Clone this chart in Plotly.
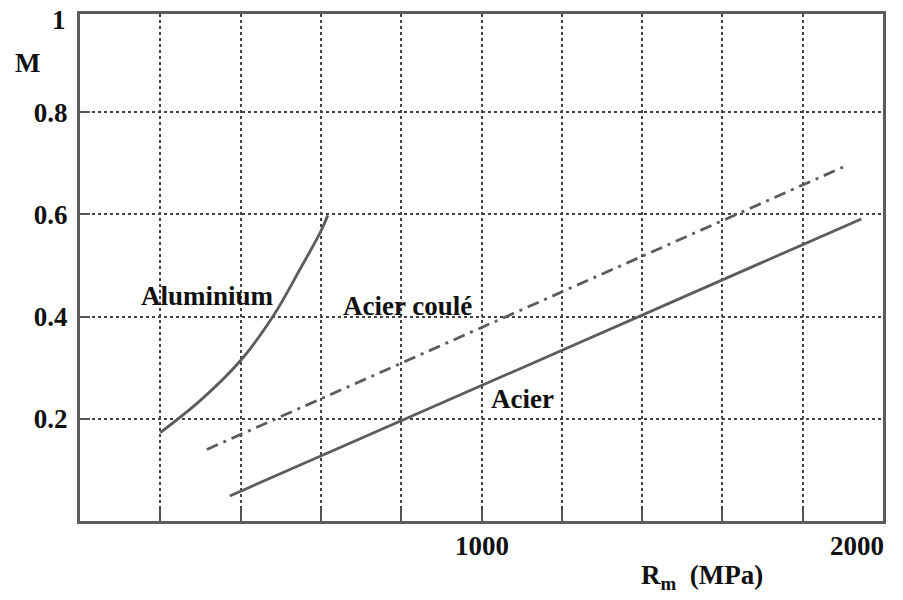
import plotly.graph_objects as go

# Data
alu_x = [200, 300, 400, 482, 549, 600, 617]
alu_y = [0.173, 0.236, 0.314, 0.402, 0.494, 0.567, 0.598]

coule_x = [316, 1902]
coule_y = [0.140, 0.693]

acier_x = [373, 1946]
acier_y = [0.049, 0.591]

y_ticks = [0.2, 0.4, 0.6, 0.8]
y_ticktext = ["0.2", "0.4", "0.6", "0.8"]

labels = [("Aluminium", 317, 0.440), ("Acier coulé", 815, 0.421), ("Acier", 1102, 0.238)]

FONT = "Liberation Serif, Times New Roman, serif"
LINE_COLOR = "#5c5c5c"
TXT = "#111111"
FS = 27

fig = go.Figure()
fig.add_trace(go.Scatter(x=alu_x, y=alu_y, mode="lines",
                         line=dict(color=LINE_COLOR, width=2.8, shape="spline", smoothing=1.0),
                         hoverinfo="skip", showlegend=False))
fig.add_trace(go.Scatter(x=coule_x, y=coule_y, mode="lines",
                         line=dict(color=LINE_COLOR, width=2.8, dash="12px,6px,3px,6px"),
                         hoverinfo="skip", showlegend=False))
fig.add_trace(go.Scatter(x=acier_x, y=acier_y, mode="lines",
                         line=dict(color=LINE_COLOR, width=2.8),
                         hoverinfo="skip", showlegend=False))

for text, x, y in labels:
    fig.add_annotation(x=x, y=y, text="<b>%s</b>" % text, showarrow=False,
                       font=dict(family=FONT, size=FS, color=TXT),
                       xanchor="center", yanchor="middle")

# x tick labels
fig.add_annotation(x=0.5, xref="paper", y=0, yref="paper", text="<b>1000</b>", showarrow=False,
                   font=dict(family=FONT, size=FS, color=TXT),
                   xanchor="center", yanchor="middle", yshift=-25)
fig.add_annotation(x=1.0, xref="paper", y=0, yref="paper", text="<b>2000</b>", showarrow=False,
                   font=dict(family=FONT, size=FS, color=TXT),
                   xanchor="right", yanchor="middle", yshift=-25, xshift=3)

fig.add_annotation(x=0, xref="paper", y=1, yref="paper", text="<b>1</b>", showarrow=False,
                   font=dict(family=FONT, size=FS, color=TXT),
                   xanchor="right", yanchor="middle", xshift=-12, yshift=-6)
fig.add_annotation(x=-0.066, xref="paper", y=0.897, text="<b>M</b>", showarrow=False,
                   font=dict(family=FONT, size=FS, color=TXT),
                   xanchor="center", yanchor="middle")
fig.add_annotation(x=0.774, xref="paper", y=0, yref="paper",
                   text="<b>R<sub>m</sub>  (MPa)</b>", showarrow=False,
                   font=dict(family=FONT, size=FS, color=TXT),
                   xanchor="center", yanchor="middle", yshift=-56)

fig.update_xaxes(range=[0, 2000], dtick=200, tick0=0, showticklabels=False,
                 showgrid=True, gridcolor="#444444", gridwidth=1.5, griddash="dot",
                 ticks="inside", ticklen=12, tickwidth=1.5, tickcolor="#555555",
                 showline=True, linecolor=LINE_COLOR, linewidth=3, mirror=True,
                 zeroline=False, fixedrange=True)
fig.update_yaxes(range=[0, 0.992], tickvals=y_ticks, ticktext=y_ticktext,
                 tickfont=dict(family=FONT, size=FS, color=TXT, weight="bold"),
                 showgrid=True, gridcolor="#444444", gridwidth=1.5, griddash="dot",
                 ticks="inside", ticklen=10, tickwidth=1.5, tickcolor="#555555",
                 ticklabelstandoff=4,
                 showline=True, linecolor=LINE_COLOR, linewidth=3, mirror=True,
                 zeroline=False, fixedrange=True)

fig.update_layout(width=903, height=600, margin=dict(l=80, r=20, t=11, b=79),
                  paper_bgcolor="white", plot_bgcolor="white", showlegend=False)

fig.write_html("out.html")
